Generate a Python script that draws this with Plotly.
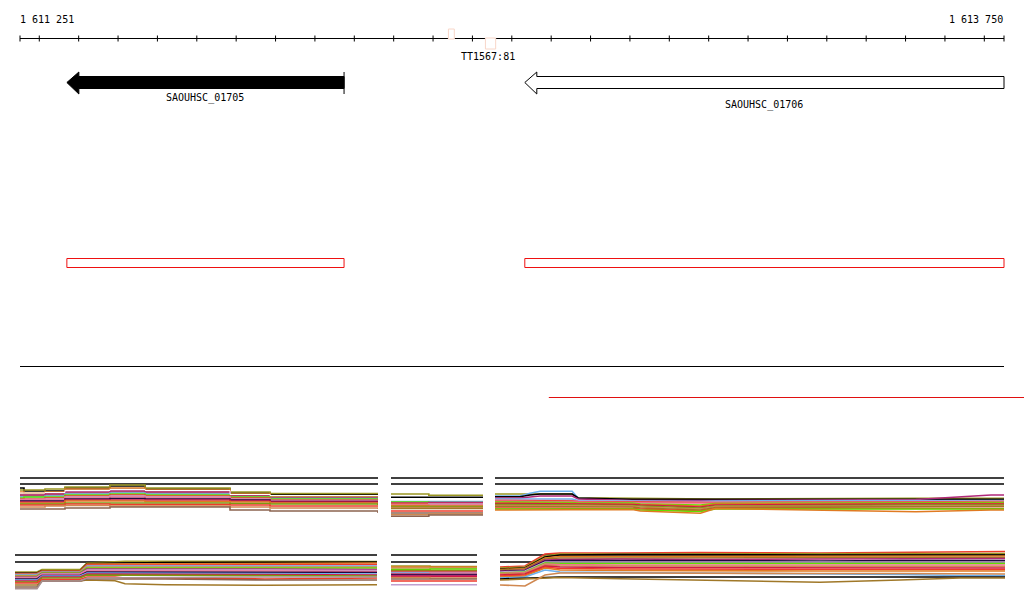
import plotly.graph_objects as go

# ---------------- data ----------------
SCALE_START = 1611251
SCALE_END = 1613750
SCALE_LABELS = ["1 611 251", "1 613 750"]
TICKS = [1611251] + list(range(1611300, 1613701, 100)) + [1613750]

GENE_NAMES = ["SAOUHSC_01705", "SAOUHSC_01706"]
GENE_START = [1611370, 1612533]
GENE_END = [1612074, 1613750]
GENE_FILLED = [True, False]

TT_NAME = "TT1567:81"
TT_START = [1612339, 1612433]
TT_END = [1612354, 1612459]

CDS_START = [1611370, 1612533]
CDS_END = [1612074, 1613750]

SEP_START = [1611251, 1612594]
SEP_END = [1613750, 1613810]

COL = {"k": "#000000", "ol": "#9a9622", "or": "#e07a22", "rd": "#ee3b2b", "gr": "#5ee000",
       "lb": "#6cb0ee", "mg": "#b0287a", "pk": "#f07090", "br": "#a07828", "gb": "#8c6450",
       "nv": "#1e0a40", "ll": "#c0a0d0", "tn": "#d08850", "og": "#7a9a10", "cr": "#d01848",
       "gy": "#a89090", "w": "#ffffff"}

# panel 1 (row 1, left)
P1_X = [0, 4, 25, 45, 90, 125, 210, 250, 358]
P1_C = ["k", "ol", "or", "tn", "br", "mg", "lb", "gr", "rd", "ll", "pk", "nv", "cr", "or", "og", "rd", "tn", "gb", "w"]
P1_Y = [
    [10, 13, 13, 10, 8, 11, 15, 16.5, 16.5],
    [12, 12, 11, 9, 7, 10, 14, 15.5, 15.5],
    [14, 15, 14, 11, 10, 12, 16, 18, 18],
    [16, 16, 15, 12, 11, 13, 17, 19, 19],
    [18, 18, 17, 15, 14, 15, 18, 19.5, 19.5],
    [17, 17, 16, 14, 13, 14, 18, 20, 20],
    [19, 19, 18, 16, 15, 16, 19, 20.5, 21],
    [20, 19, 19, 17, 16, 17, 19, 21, 22],
    [21, 21, 20, 18, 17, 18, 20, 22, 23],
    [21.5, 21.5, 21, 19, 18, 19, 21, 22.5, 23],
    [22, 22, 22, 20, 19, 20, 21.5, 23, 24],
    [23, 23, 23, 21, 20.5, 21, 22, 23.5, 24.5],
    [24, 24, 24, 22, 22, 22, 23, 24, 25],
    [25, 25, 25, 23, 23, 23.5, 24, 25, 26],
    [26, 26, 26, 25, 25, 25, 25.5, 26, 27],
    [27, 27, 27, 26, 26.5, 26.5, 27, 28, 28.5],
    [29, 29, 28, 27.5, 28, 28, 29, 30, 31],
    [31, 31, 31, 30, 29, 29, 32, 33, 35],
    [15, 15, 14.5, 12.5, 11.5, 12.5, 16.5, 17.5, 17.5],
]

# panel 2 (row 1, middle)
P2_X = [0, 37, 90]
P2_C = ["ol", "k", "lb", "gr", "mg", "rd", "ll", "pk", "or", "og", "tn", "br", "rd", "gb", "tn", "gb"]
P2_Y = [
    [16, 17.3, 17.3], [19.3, 19.3, 19.3], [23.5, 23.5, 23.5], [24, 24.5, 24],
    [25, 24.5, 25], [25.5, 25.5, 26], [26.5, 26, 26.5], [27, 27, 27],
    [27.5, 28, 28], [28.5, 28.5, 29], [29.5, 29.5, 29.5], [30.5, 30.5, 30.5],
    [33, 33, 32.5], [35, 35, 34.5], [36.7, 36, 36], [38.3, 37, 37],
]

# panel 3 (row 1, right)
P3_X = [0, 25, 35, 45, 77, 83, 137, 145, 205, 220, 420, 495, 508]
P3_C = ["ol", "lb", "k", "mg", "lb", "ll", "rd", "pk", "gr", "or", "cr", "og", "tn", "br", "rd", "gr", "or"]
P3_Y = [
    [16, 16, 16, 16, 16, 19.8, 20.3, 21, 21, 21, 20.3, 20.3, 20.3],
    [18, 18, 15.3, 13.3, 13.3, 20.3, 22, 22, 22, 22, 22, 22, 22],
    [18.7, 18.7, 17, 16, 16, 20, 21.3, 21.3, 21.3, 21.3, 21.3, 21.3, 21.3],
    [20, 20, 19, 18, 18, 21, 22.5, 22.5, 23, 22.5, 21.5, 17, 17],
    [21, 21, 21, 21, 21, 22.5, 23, 23, 23.5, 23, 22.5, 22.5, 22.5],
    [22, 22, 22, 22, 22.5, 23, 23.5, 24, 24, 24, 23.5, 23, 23],
    [22.5, 22.5, 22.5, 23, 23, 23.5, 24, 24.5, 25, 24.5, 24, 23.5, 23.5],
    [23, 23, 23.5, 23.5, 24, 24, 24.5, 25, 25.5, 25, 24.5, 24, 24],
    [24, 24, 24, 24.5, 24.5, 25, 25, 26, 27, 25.5, 25, 24.5, 24.5],
    [25, 25, 25, 25, 25.5, 25.5, 26, 26.5, 28, 26, 25.5, 25.5, 25.5],
    [25.5, 25.5, 25.5, 26, 26, 26, 26.5, 27, 29, 27, 26, 26, 26],
    [26.5, 26.5, 26.5, 26.5, 27, 27, 27.5, 28, 30, 28, 27, 27, 27],
    [27.5, 27.5, 27.5, 27.5, 27.5, 28, 28, 29, 31, 28.5, 28, 28, 28],
    [28.5, 28.5, 28.5, 28.5, 28.5, 29, 29, 30, 32, 29.5, 29, 28.5, 28.5],
    [30, 30, 30, 30, 30, 30, 30.5, 31, 33, 30.5, 31, 30.5, 30.5],
    [31, 31, 31, 31, 31, 31, 31, 32, 33.5, 31, 31, 31, 31],
    [32, 32, 32, 31.5, 31.5, 31.5, 31.5, 33, 35.3, 30.5, 33.7, 32, 32],
]

# panel 4 (row 2, left)
P4_X = [0, 22, 27, 65, 72, 100, 110, 150, 250, 362]
P4_C = ["ol", "k", "or", "rd", "lb", "tn", "gr", "mg", "ll", "pk", "nv", "lb", "cr", "og", "rd", "br", "gb", "gy"]
P4_Y = [
    [17, 17, 14.5, 14.5, 8, 7, 6.3, 6.3, 6.5, 6.5],
    [18, 18, 15.7, 15.7, 8.5, 8, 7.5, 7.5, 7.2, 7],
    [18.5, 18.5, 16, 16, 9, 9, 8.5, 8.5, 8.5, 8],
    [19, 19, 16.5, 16.5, 10, 10, 9.5, 9.5, 9.5, 9.5],
    [19.5, 19.5, 17, 17, 11, 11, 10.5, 10.5, 10.5, 11],
    [20.5, 20.5, 17.5, 17.5, 12, 12, 11.5, 11.5, 12, 12],
    [21.5, 21.5, 18, 18, 13, 13, 12.5, 12.5, 13, 13],
    [22, 22, 18.5, 18.5, 14, 14, 13.5, 13.5, 14, 14.5],
    [22.5, 22.5, 19, 19, 15, 15, 14.5, 14.5, 15, 15.5],
    [23, 23, 19.5, 19.5, 16, 16, 15.5, 15.5, 16, 16.5],
    [24, 24, 20.5, 20.5, 17, 17, 17, 17, 17.5, 17.5],
    [25, 25, 21, 21, 18, 18, 18, 18, 18.5, 19],
    [26, 26, 22, 22, 19, 19, 19, 19, 19.5, 20],
    [27, 27, 23, 23, 20, 20, 20, 20, 20.5, 21],
    [28, 28, 24.5, 24.5, 22, 22, 23, 23, 24, 23],
    [30, 30, 26, 26, 25, 25.7, 28.7, 29.7, 30.3, 29.7],
    [32, 32, 26.3, 26.3, 24, 24, 24, 24, 25, 25],
    [33.7, 33.7, 26, 26, 23, 23, 22.5, 22.5, 22, 22],
]

# panel 5 (row 2, middle)
P5_X = [0, 39, 86]
P5_C = ["ol", "or", "tn", "gr", "og", "rd", "lb", "pk", "nv", "mg", "cr", "tn", "gb", "rd", "ll"]
P5_Y = [
    [11, 11.5, 11], [12, 12, 12.5], [13, 13, 13], [14.5, 14, 14], [15.5, 15.5, 15],
    [16.5, 16.5, 16.5], [17.5, 17.5, 17.5], [18.5, 18, 18.5], [19.5, 19.5, 19],
    [20.5, 20.5, 20.5], [21.5, 21.5, 21.5], [22.5, 23, 23], [24, 24, 24],
    [26, 26, 25.5], [29.7, 29.7, 29.7],
]

# panel 6 (row 2, right)
P6_X = [0, 25, 45, 60, 120, 200, 320, 400, 460, 505]
P6_C = ["rd", "ol", "k", "or", "br", "mg", "nv", "ll", "gr", "pk", "tn", "cr", "rd", "or", "lb", "k", "br", "tn"]
P6_Y = [
    [12, 11, -1, -2, -2, -2.5, -2, -2.5, -3, -3.5],
    [13, 12, 1, -1, -1, -1, -1, -1, -1.5, -1.5],
    [14, 13, 2, 0, -0.5, 0, 0, 0, 0, 0],
    [14.5, 13.5, 3, 1.5, 1.5, 1.5, 1, 1.5, 1, 1],
    [15, 14, 4, 3, 3, 3, 3, 3, 2.5, 2.5],
    [16, 15, 5, 4.5, 4, 4.5, 4, 4, 4, 3.5],
    [16.5, 15.5, 6, 5.5, 5.5, 6, 6, 5.5, 5.5, 5.5],
    [17, 16, 7, 7, 7, 7, 7, 7, 7, 7],
    [18, 17, 8, 8.5, 8.5, 8.5, 8.5, 9, 8.5, 8.5],
    [18.5, 17.5, 9, 9.5, 10, 10, 10, 10, 10, 10],
    [19, 18, 10, 11, 11, 11, 11.5, 11.5, 11.5, 11.5],
    [20, 19, 11, 12, 12.5, 12.5, 13, 13, 13, 13],
    [21, 20, 12, 13.5, 14, 14, 14.5, 14.5, 14.5, 14.5],
    [22, 21, 13, 15, 15.5, 16, 16, 16, 16, 16],
    [23, 22, 15, 17, 17.5, 18, 18.5, 19.5, 20.5, 20.5],
    [24, 23, 22, 22, 22, 22, 22, 22, 22, 22],
    [25, 24, 22.5, 22.5, 23.7, 25, 27.3, 25, 23, 23],
    [30, 31, 20, 18, 18, 18.5, 18.5, 18.5, 19, 19],
]

ROW1_REF = [0, 6]
ROW2_REF = [0, 7]

# ---------------- layout helpers ----------------
W, H = 1024, 611
PX_L, PX_R = 20, 1004              # pixel span of the scale
bp_per_px = (SCALE_END - SCALE_START) / (PX_R - PX_L)
X0 = SCALE_START - PX_L * bp_per_px
X1 = SCALE_START + (W - PX_L) * bp_per_px

FONT = dict(family="DejaVu Sans Mono", size=10, color="#000000")

fig = go.Figure()

def add_line(xs, ys, color, width=1, xa="x", ya="y", shape="linear", fill=None, fillcolor=None):
    fig.add_trace(go.Scatter(x=xs, y=ys, mode="lines", xaxis=xa, yaxis=ya,
                             line=dict(color=color, width=width, shape=shape),
                             fill=fill, fillcolor=fillcolor, hoverinfo="skip", showlegend=False))

# scale line and ticks
add_line([SCALE_START, SCALE_END], [38.5, 38.5], "#000000")
tx, ty = [], []
for t in TICKS:
    tx += [t, t, None]
    ty += [35.5, 41.5, None]
add_line(tx, ty, "#000000")

# TT feature boxes (white fill masks the scale line)
TT_ROWS = [(29, 39), (38, 49)]
for s, e, (y0, y1) in zip(TT_START, TT_END, TT_ROWS):
    add_line([s, e, e, s, s], [y0, y0, y1, y1, y0], "#f8d6c8", fill="toself", fillcolor="#ffffff")

# genes (minus strand arrows)
head = 12 * bp_per_px
for s, e, filled in zip(GENE_START, GENE_END, GENE_FILLED):
    xs = [s, s + head, s + head, e, e, s + head, s + head, s]
    ys = [82.5, 72, 76.5, 76.5, 88.5, 88.5, 94, 82.5]
    if filled:
        add_line(xs, ys, "#000000", fill="toself", fillcolor="#000000")
        add_line([e, e], [72, 94], "#000000")
    else:
        add_line(xs, ys, "#000000", fill="toself", fillcolor="#ffffff")

# CDS boxes
for s, e in zip(CDS_START, CDS_END):
    add_line([s, e, e, s, s], [258.5, 258.5, 267.5, 267.5, 258.5], "#ee1111")

# separators
add_line([SEP_START[0], SEP_END[0]], [366.5, 366.5], "#000000")
add_line([SEP_START[1], SEP_END[1]], [397.5, 397.5], "#e01010", width=1.2)

annotations = [
    dict(x=SCALE_START, y=19, text=SCALE_LABELS[0], xanchor="left", xshift=-2),
    dict(x=SCALE_END, y=19, text=SCALE_LABELS[1], xanchor="right", xshift=1),
    dict(x=(TT_START[1] + TT_END[1]) / 2 - 5, y=56, text=TT_NAME, xanchor="center", xshift=-1),
    dict(x=(GENE_START[0] + GENE_END[0]) / 2, y=98, text=GENE_NAMES[0], xanchor="center"),
    dict(x=(GENE_START[1] + GENE_END[1]) / 2, y=105, text=GENE_NAMES[1], xanchor="center"),
]
for a in annotations:
    a.update(xref="x", yref="y", yanchor="middle", showarrow=False, font=FONT)

# bottom panels: (X, Y, C, refs, line shape, pixel left, right, top, bottom)
PANELS = [
    (P1_X, P1_Y, P1_C, ROW1_REF, "hv", 20, 378, 468, 518),
    (P2_X, P2_Y, P2_C, ROW1_REF, "hv", 391, 483, 468, 518),
    (P3_X, P3_Y, P3_C, ROW1_REF, "linear", 495, 1004, 468, 518),
    (P4_X, P4_Y, P4_C, ROW2_REF, "linear", 15, 377, 545, 595),
    (P5_X, P5_Y, P5_C, ROW2_REF, "hv", 391, 477, 545, 595),
    (P6_X, P6_Y, P6_C, ROW2_REF, "linear", 500, 1005, 545, 595),
]

layout_axes = {}
for i, (PX, PY, PC, REF, shp, l, r, t, b) in enumerate(PANELS):
    n = i + 2
    xa, ya = f"x{n}", f"y{n}"
    for ref in REF:
        add_line([PX[0], PX[-1]], [ref, ref], "#000000", width=1.3, xa=xa, ya=ya)
    for ys, c in zip(PY, PC):
        add_line(PX, ys, COL[c], width=1.0 if c == "w" else 1.6, xa=xa, ya=ya, shape=shp)
    layout_axes[f"xaxis{n}"] = dict(domain=[l / W, r / W], range=[PX[0], PX[-1]], visible=False,
                                    fixedrange=True, anchor=ya)
    layout_axes[f"yaxis{n}"] = dict(domain=[1 - b / H, 1 - t / H], range=[40, -10], visible=False,
                                    fixedrange=True, anchor=xa)

fig.update_layout(
    width=W, height=H, margin=dict(l=0, r=0, t=0, b=0),
    paper_bgcolor="#ffffff", plot_bgcolor="rgba(0,0,0,0)",
    xaxis=dict(range=[X0, X1], domain=[0, 1], visible=False, fixedrange=True),
    yaxis=dict(range=[H, 0], domain=[0, 1], visible=False, fixedrange=True),
    annotations=annotations, showlegend=False,
    **layout_axes,
)

fig.write_html("out.html", config={"displayModeBar": False},
               post_script="document.body.style.margin='0';document.body.style.overflow='hidden';")
